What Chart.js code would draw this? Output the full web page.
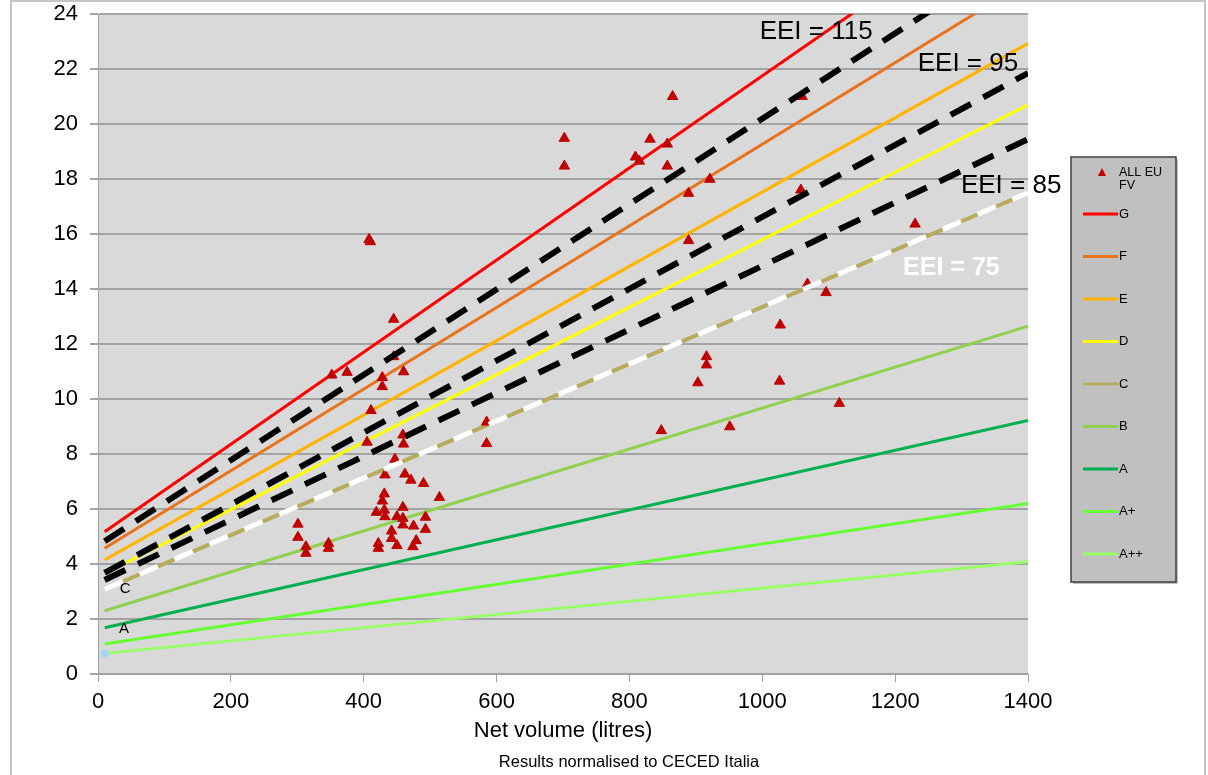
<!DOCTYPE html>
<html lang="en">
<head>
<meta charset="UTF-8">
<title>EEI classes vs net volume</title>
<script src="https://cdn.jsdelivr.net/npm/chart.js"></script>
<style>
  body { margin: 0; background: #fff; }
  canvas { display: block; }
</style>
</head>
<body>
<canvas id="eeiChart" width="1208" height="775"></canvas>
<script>
// measured products (net volume in litres, consumption)
const volumes = [865, 1060, 702, 702, 831, 857, 809, 815, 857, 921, 889, 1058, 1230, 889, 1068, 1096, 1027, 916, 916, 903, 1026, 1116, 951, 848, 585, 585,
  408, 410, 445, 352, 375, 445, 460, 428, 428, 411, 405, 459, 460, 447, 432, 462, 471, 490, 514, 431, 428, 419, 431, 432, 459, 450, 459, 459, 493, 475, 493,
  442, 442, 422, 422, 450, 479, 474, 301, 301, 313, 313, 347, 347];
const consumption = [21.0, 21.0, 19.48, 18.47, 19.45, 19.27, 18.8, 18.65, 18.47, 17.99, 17.48, 17.6, 16.36, 15.76, 14.18, 13.87, 12.69, 11.54, 11.24, 10.59, 10.65, 9.84, 8.99, 8.85, 9.16, 8.38,
  15.8, 15.72, 12.9, 10.87, 10.97, 11.54, 10.99, 10.78, 10.45, 9.58, 8.43, 8.69, 8.36, 7.81, 7.24, 7.27, 7.05, 6.93, 6.42, 6.55, 6.29, 5.88, 5.96, 5.72, 6.06, 5.72, 5.66, 5.42, 5.70, 5.38, 5.26,
  5.2, 4.93, 4.75, 4.57, 4.67, 4.85, 4.63, 5.45, 4.97, 4.63, 4.39, 4.75, 4.57];

// class limit lines, value at start and end volume
const lineVolumes = [10, 1400];
const classNames = ['G', 'F', 'E', 'D', 'C', 'B', 'A', 'A+', 'A++'];
const classColors = ['#ff0000', '#e8731c', '#ffb400', '#ffff00', '#b7ac5e', '#92d050', '#00b050', '#66ff33', '#99ff66'];
const classStart = [5.17, 4.57, 4.15, 3.65, 3.08, 2.3, 1.68, 1.09, 0.75];
const classEnd = [28.45, 25.2, 22.93, 20.7, 17.5, 12.65, 9.22, 6.2, 4.08];

// EEI reference lines
const eeiNames = ['EEI = 115', 'EEI = 95', 'EEI = 85', 'EEI = 75'];
const eeiStart = [4.83, 3.68, 3.42, 3.08];
const eeiEnd = [26.4, 21.85, 19.45, 17.5];

const xTicks = [0, 200, 400, 600, 800, 1000, 1200, 1400];
const yTicks = [0, 2, 4, 6, 8, 10, 12, 14, 16, 18, 20, 22, 24];

const FONT = '"Liberation Sans", Arial, sans-serif';

function linePoints(a, b) {
  return [{x: lineVolumes[0], y: a}, {x: lineVolumes[1], y: b}];
}

const datasets = [];

eeiNames.forEach(function(name, i) {
  const white = i === 3;
  datasets.push({
    label: name,
    data: linePoints(eeiStart[i], eeiEnd[i]),
    showLine: true,
    borderColor: white ? '#ffffff' : '#000000',
    borderWidth: white ? 5 : 6,
    borderDash: white ? [20, 18] : [23, 14],
    borderCapStyle: 'butt',
    pointRadius: 0,
    order: 0
  });
});

datasets.push({
  label: 'ALL EU FV',
  data: volumes.map(function(v, i) { return {x: v, y: consumption[i]}; }),
  pointStyle: 'triangle',
  pointRadius: 6,
  backgroundColor: '#c00000',
  borderColor: '#c00000',
  borderWidth: 1,
  order: 1
});

classNames.forEach(function(name, i) {
  const last = name === 'A++';
  datasets.push({
    label: name,
    data: linePoints(classStart[i], classEnd[i]),
    showLine: true,
    borderColor: classColors[i],
    borderWidth: name === 'C' ? 4 : 3,
    pointRadius: last ? [4, 0] : 0,
    pointStyle: 'star',
    pointBorderColor: '#a8d4f0',
    order: 2
  });
});

const chartFrame = {
  id: 'chartFrame',
  beforeDraw(chart) {
    const c = chart.ctx, a = chart.chartArea;
    c.save();
    c.fillStyle = '#ffffff';
    c.fillRect(0, 0, chart.width, chart.height);
    c.strokeStyle = '#c4c4c4';
    c.lineWidth = 2;
    c.strokeRect(11, 1, 1194, 800);
    c.fillStyle = '#d9d9d9';
    c.fillRect(a.left, a.top, a.right - a.left, a.bottom - a.top);
    c.restore();
  },
  afterDraw(chart) {
    const c = chart.ctx;
    const xs = chart.scales.x, ys = chart.scales.y;
    c.save();
    c.textBaseline = 'middle';
    c.textAlign = 'left';

    // EEI labels
    const eeiLabels = [
      {t: eeiNames[0], x: 996, y: 23.35, color: '#000', font: '26px ' + FONT},
      {t: eeiNames[1], x: 1234, y: 22.2, color: '#000', font: '26px ' + FONT},
      {t: eeiNames[2], x: 1299, y: 17.75, color: '#000', font: '26px ' + FONT},
      {t: eeiNames[3], x: 1212, y: 14.76, color: '#fff', font: 'bold 25px ' + FONT}
    ];
    eeiLabels.forEach(function(l) {
      c.font = l.font;
      c.fillStyle = l.color;
      c.fillText(l.t, xs.getPixelForValue(l.x), ys.getPixelForValue(l.y));
    });

    c.font = '15px ' + FONT;
    c.fillStyle = '#000';
    c.textAlign = 'center';
    c.fillText('C', xs.getPixelForValue(41), ys.getPixelForValue(3.09));
    c.fillText('A', xs.getPixelForValue(39), ys.getPixelForValue(1.64));

    // axis title and note
    c.font = '22px ' + FONT;
    c.fillText('Net volume (litres)', (chart.chartArea.left + chart.chartArea.right) / 2, 731);
    c.font = '16.5px ' + FONT;
    c.fillText('Results normalised to CECED Italia', 629, 762);

    // legend box
    const lx = 1071, ly = 157, lw = 105, lh = 425;
    c.fillStyle = 'rgba(0,0,0,0.25)';
    c.fillRect(lx + 2, ly + 2, lw, lh);
    c.fillStyle = '#c0c0c0';
    c.fillRect(lx, ly, lw, lh);
    c.strokeStyle = '#404040';
    c.lineWidth = 1.5;
    c.strokeRect(lx, ly, lw, lh);

    c.textAlign = 'left';
    c.fillStyle = '#c00000';
    c.beginPath();
    c.moveTo(1102, 168);
    c.lineTo(1106, 176);
    c.lineTo(1098, 176);
    c.closePath();
    c.fill();
    c.fillStyle = '#000';
    c.font = '12.5px ' + FONT;
    c.fillText('ALL EU', 1119, 173);
    c.fillText('FV', 1119, 186);

    classNames.forEach(function(name, i) {
      const y = 214 + i * 42.5;
      c.strokeStyle = classColors[i];
      c.lineWidth = 3;
      c.beginPath();
      c.moveTo(1083, y);
      c.lineTo(1118, y);
      c.stroke();
      c.fillStyle = '#000';
      c.font = '13px ' + FONT;
      c.fillText(name, 1119, y);
    });
    c.restore();
  }
};

new Chart(document.getElementById('eeiChart'), {
  type: 'scatter',
  data: { datasets: datasets },
  options: {
    responsive: false,
    animation: false,
    devicePixelRatio: 1,
    layout: { padding: { top: 14, right: 180, left: 0, bottom: 0 } },
    plugins: {
      legend: { display: false },
      tooltip: { enabled: false }
    },
    scales: {
      x: {
        type: 'linear',
        min: 0,
        max: 1400,
        afterBuildTicks: function(s) { s.ticks = xTicks.map(function(v) { return {value: v}; }); },
        afterFit: function(s) { s.height = 101; },
        grid: { drawOnChartArea: false, color: '#a0a0a0', lineWidth: 1, tickLength: 8 },
        border: { color: '#a0a0a0', width: 1 },
        ticks: {
          color: '#000', padding: 7, maxRotation: 0, font: { family: FONT, size: 22 },
          callback: function(v) { return String(v); }
        }
      },
      y: {
        type: 'linear',
        min: 0,
        max: 24,
        afterBuildTicks: function(s) { s.ticks = yTicks.map(function(v) { return {value: v}; }); },
        afterFit: function(s) { s.width = 98; s.paddingTop = 0; s.paddingBottom = 0; },
        grid: { color: '#a3a3a3', lineWidth: 2, tickLength: 8 },
        border: { color: '#a0a0a0', width: 1 },
        ticks: {
          color: '#000', padding: 12, font: { family: FONT, size: 22 },
          callback: function(v) { return String(v); }
        }
      }
    }
  },
  plugins: [chartFrame]
});
</script>
</body>
</html>
